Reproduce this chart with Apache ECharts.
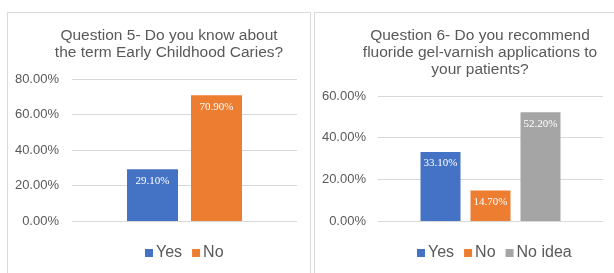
<!DOCTYPE html>
<html><head><meta charset="utf-8">
<script src="https://cdn.jsdelivr.net/npm/echarts@6/dist/echarts.min.js"></script>
<style>html,body{margin:0;padding:0;background:#fff}#c{width:614px;height:273px}</style>
</head><body><div id="c"></div>
<script>
const q5Categories = ['Yes', 'No'];
const q5Values = [29.1, 70.9];
const q6Categories = ['Yes', 'No', 'No idea'];
const q6Values = [33.1, 14.7, 52.2];
const q5Ticks = [0, 20, 40, 60, 80];
const q6Ticks = [0, 20, 40, 60];
const colors = ['#4472C4', '#ED7D31', '#A5A5A5'];

const chart = echarts.init(document.getElementById('c'), null, {renderer: 'canvas'});
const txt = '#595959';
const font = 'Liberation Sans, Arial, sans-serif';

function makeSeries(cats, vals, idx, bw, gap) {
  return cats.map((c, i) => ({
    name: c, type: 'bar', xAxisIndex: idx, yAxisIndex: idx,
    data: [vals[i]], barWidth: bw, barGap: gap,
    itemStyle: {color: colors[i]},
    label: {show: true, position: 'insideTop', distance: 6, color: '#fff',
      fontFamily: 'Liberation Serif, Times New Roman, serif', fontSize: 11,
      formatter: p => p.value.toFixed(2) + '%'}
  }));
}

chart.setOption({
  animation: false,
  textStyle: {fontFamily: font},
  graphic: [
    {type: 'rect', shape: {x: 7.5, y: 12.5, width: 303, height: 270}, style: {fill: 'none', stroke: '#d9d9d9', lineWidth: 1}},
    {type: 'rect', shape: {x: 314.5, y: 12.5, width: 310, height: 270}, style: {fill: 'none', stroke: '#d9d9d9', lineWidth: 1}}
  ],
  title: [
    {text: 'Question 5- Do you know about\nthe term Early Childhood Caries?', left: 164, top: 22, textAlign: 'center',
      textStyle: {color: txt, fontSize: 15.5, fontWeight: 'normal', lineHeight: 17, fontFamily: font}},
    {text: 'Question 6- Do you recommend\nfluoride gel-varnish applications to\nyour patients?', left: 475, top: 22, textAlign: 'center',
      textStyle: {color: txt, fontSize: 15.5, fontWeight: 'normal', lineHeight: 17, fontFamily: font}}
  ],
  legend: [
    {data: q5Categories, left: 140, top: 240, itemWidth: 8, itemHeight: 8, itemGap: 10, icon: 'rect',
      textStyle: {color: txt, fontSize: 16, fontFamily: font, padding: [0, 0, 0, -2]}},
    {data: q6Categories, left: 412, top: 240, itemWidth: 8, itemHeight: 8, itemGap: 10, icon: 'rect',
      textStyle: {color: txt, fontSize: 16, fontFamily: font, padding: [0, 0, 0, -2]}}
  ],
  grid: [
    {left: 72, width: 225, top: 79, height: 142},
    {left: 378, width: 225, top: 96, height: 125}
  ],
  xAxis: [
    {type: 'category', gridIndex: 0, data: [''], axisLine: {show: false}, axisTick: {show: false}, axisLabel: {show: false}},
    {type: 'category', gridIndex: 1, data: [''], axisLine: {show: false}, axisTick: {show: false}, axisLabel: {show: false}}
  ],
  yAxis: [
    {type: 'value', gridIndex: 0, min: q5Ticks[0], max: q5Ticks[q5Ticks.length - 1], interval: 20,
      axisLabel: {color: txt, fontSize: 13, margin: 13, formatter: v => v.toFixed(2) + '%'},
      splitLine: {lineStyle: {color: '#d9d9d9'}}, axisLine: {show: false}, axisTick: {show: false}},
    {type: 'value', gridIndex: 1, min: q6Ticks[0], max: q6Ticks[q6Ticks.length - 1], interval: 20,
      axisLabel: {color: txt, fontSize: 13, margin: 12, formatter: v => v.toFixed(2) + '%'},
      splitLine: {lineStyle: {color: '#d9d9d9'}}, axisLine: {show: false}, axisTick: {show: false}}
  ],
  series: [
    ...makeSeries(q5Categories, q5Values, 0, 51, '25.5%'),
    ...makeSeries(q6Categories, q6Values, 1, 40, '25%')
  ]
});
</script></body></html>
